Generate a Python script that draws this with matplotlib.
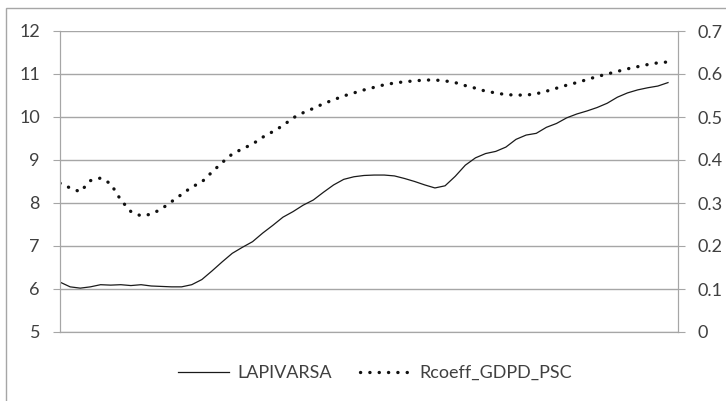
import matplotlib
matplotlib.use("Agg")
import matplotlib.pyplot as plt
from matplotlib.patches import Rectangle
import numpy as np

plt.rcParams['font.family'] = ['Lato', 'DejaVu Sans']

# period index (equally spaced observations)
period = list(range(61))

lapivarsa = [6.16, 6.05, 6.02, 6.05, 6.10, 6.09, 6.10, 6.08, 6.10, 6.07,
             6.06, 6.05, 6.05, 6.10, 6.22, 6.42, 6.63, 6.83, 6.97, 7.10,
             7.30, 7.48, 7.67, 7.80, 7.95, 8.07, 8.25, 8.42, 8.55, 8.61,
             8.64, 8.65, 8.65, 8.63, 8.57, 8.50, 8.42, 8.35, 8.40, 8.62,
             8.88, 9.05, 9.15, 9.20, 9.30, 9.48, 9.58, 9.62, 9.76, 9.85,
             9.98, 10.07, 10.14, 10.22, 10.32, 10.46, 10.56, 10.63, 10.68, 10.72,
             10.80]

rcoeff = [0.346, 0.335, 0.326, 0.352, 0.358, 0.345, 0.307, 0.280, 0.270, 0.274,
          0.286, 0.303, 0.320, 0.337, 0.349, 0.372, 0.394, 0.414, 0.426, 0.437,
          0.453, 0.466, 0.480, 0.498, 0.510, 0.520, 0.531, 0.540, 0.549, 0.556,
          0.563, 0.569, 0.575, 0.579, 0.582, 0.584, 0.586, 0.586, 0.584, 0.580,
          0.573, 0.567, 0.560, 0.556, 0.552, 0.551, 0.551, 0.554, 0.560, 0.567,
          0.574, 0.580, 0.587, 0.594, 0.600, 0.606, 0.612, 0.617, 0.622, 0.626,
          0.628]

left_ticks = [5, 6, 7, 8, 9, 10, 11, 12]
right_ticks = [0, 0.1, 0.2, 0.3, 0.4, 0.5, 0.6, 0.7]
right_labels = ['0', '0.1', '0.2', '0.3', '0.4', '0.5', '0.6', '0.7']

W, H = 726, 401
fig = plt.figure(figsize=(W / 100, H / 100), dpi=100)

# outer chart border
fig.patches.append(Rectangle((6 / W, -0.1), 1.2, 1 - 8 / H + 0.1, transform=fig.transFigure,
                             fill=False, edgecolor='#a6a6a6', linewidth=1.0))

ax = fig.add_axes([60 / W, 1 - 332 / H, (678 - 60) / W, (332 - 31) / H])
ax2 = ax.twinx()

grid_c = '#a6a6a6'
text_c = '#404040'

ax.set_ylim(5, 12)
ax.set_yticks(left_ticks)
ax.set_yticklabels([str(t) for t in left_ticks])
ax2.set_ylim(0, 0.7)
ax2.set_yticks(right_ticks)
ax2.set_yticklabels(right_labels)

n = len(period)
ax.set_xlim(0, (n - 1) * (678 - 60) / (668 - 60))
ax.set_xticks([])

ax.yaxis.grid(True, color=grid_c, linewidth=1.0)
ax.set_axisbelow(True)

for a in (ax, ax2):
    a.spines['top'].set_visible(False)
    a.spines['left'].set_color(grid_c)
    a.spines['right'].set_color(grid_c)
    a.spines['bottom'].set_color(grid_c)
ax.tick_params(axis='y', length=5, color=grid_c, labelcolor=text_c, labelsize=13, pad=9.4)
ax2.tick_params(axis='y', length=5, color=grid_c, labelcolor=text_c, labelsize=13, pad=9.4)

l1, = ax.plot(period, lapivarsa, color='#1a1a1a', linewidth=0.9, label='LAPIVARSA')
l2, = ax2.plot(period, rcoeff, color='#111111', linewidth=2.4, linestyle=(0, (0.05, 2.75)),
               dash_capstyle='round', label='Rcoeff_GDPD_PSC')

leg = fig.legend(handles=[l1, l2], loc='center', bbox_to_anchor=(375 / W, 1 - 373 / H),
                 ncol=2, frameon=False, fontsize=13, handlelength=2.8, handletextpad=0.45,
                 columnspacing=1.6, labelcolor=text_c)

fig.savefig('out.png', dpi=100)
